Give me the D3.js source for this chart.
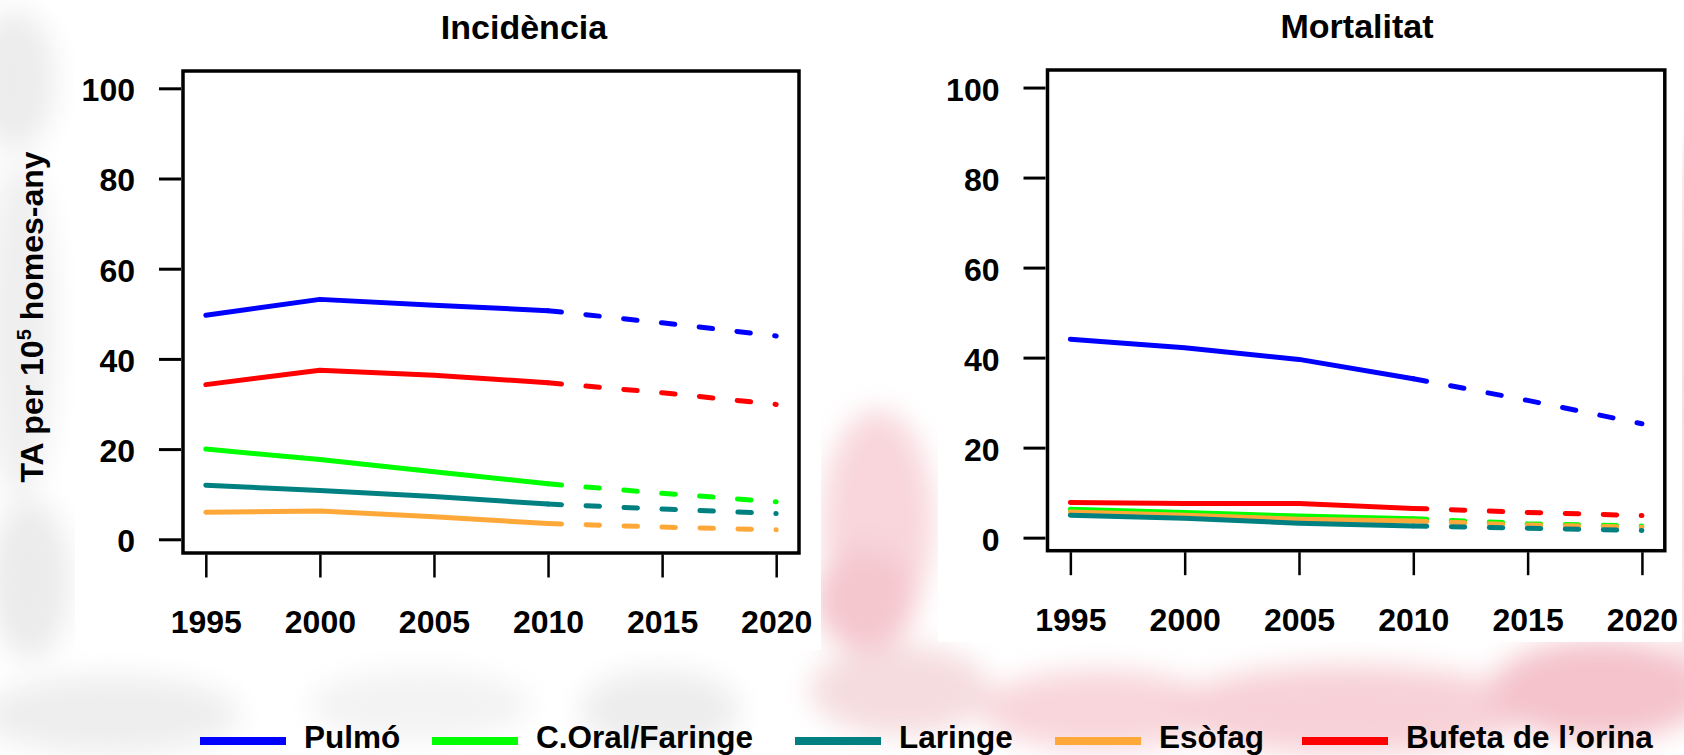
<!DOCTYPE html>
<html>
<head>
<meta charset="utf-8">
<script src="https://cdn.jsdelivr.net/npm/d3@7"></script>
<style>
  html, body { margin: 0; padding: 0; background: #ffffff; }
  svg { display: block; }
  text { font-family: "Liberation Sans", Arial, sans-serif; font-weight: bold; fill: #000; }
</style>
</head>
<body>
<svg id="chart" width="1684" height="755"></svg>
<script>
// Years on the x axis; observed up to 2010, projected afterwards
const years = [1995, 2000, 2005, 2010, 2015, 2020];
const lastObserved = 2010;
const yTicks = [0, 20, 40, 60, 80, 100];

const sites = ["Pulmó", "C.Oral/Faringe", "Laringe", "Esòfag", "Bufeta de l’orina"];
const siteColours = ["#0000ff", "#00ff00", "#008080", "#ffa83a", "#ff0000"];

// Incidence, age-adjusted rate per 100,000 men-years
const incPulmo   = [49.7, 53.2, 51.9, 50.7, 48.0, 45.1];
const incOral    = [20.0, 17.7, 15.0, 12.3, 10.2, 8.3];
const incLaringe = [12.0, 10.8, 9.5, 7.8, 6.7, 5.7];
const incEsofag  = [6.0, 6.3, 5.0, 3.5, 2.7, 2.1];
const incBufeta  = [34.3, 37.5, 36.4, 34.7, 32.5, 29.9];

// Mortality, age-adjusted rate per 100,000 men-years
const morPulmo   = [44.1, 42.2, 39.6, 35.3, 30.5, 25.3];
const morOral    = [6.3, 5.6, 4.8, 4.2, 3.1, 2.6];
const morLaringe = [5.0, 4.3, 3.2, 2.6, 2.1, 1.6];
const morEsofag  = [5.7, 5.0, 4.1, 3.7, 2.8, 2.3];
const morBufeta  = [7.8, 7.6, 7.6, 6.5, 5.6, 4.9];

// Drawing order within each panel (index into sites)
const drawOrder = [0, 1, 3, 2, 4];

const svg = d3.select("#chart");

// ---- hazy backdrop ----
const defs = svg.append("defs");
defs.append("filter").attr("id", "haze")
  .attr("x", "-50%").attr("y", "-50%").attr("width", "200%").attr("height", "200%")
  .append("feGaussianBlur").attr("stdDeviation", 14);

const bg = svg.append("g").attr("filter", "url(#haze)");
const blobs = [
  [15, 80, 40, 70, "#ececec"],
  [20, 330, 35, 170, "#efefef"],
  [30, 580, 40, 80, "#ebebeb"],
  [110, 715, 130, 40, "#eeeeee"],
  [420, 705, 110, 35, "#f3f3f3"],
  [660, 710, 80, 40, "#ededed"],
  [878, 520, 55, 110, "#f8d6db"],
  [865, 600, 50, 50, "#f4c6cd"],
  [900, 690, 90, 45, "#f5dcdf"],
  [1100, 710, 120, 40, "#f8d6db"],
  [1350, 710, 180, 45, "#f7d1d7"],
  [1600, 690, 110, 50, "#f4c3cb"],
  [1690, 400, 18, 260, "#f7d3d8"]
];
blobs.forEach(b => bg.append("ellipse")
  .attr("cx", b[0]).attr("cy", b[1]).attr("rx", b[2]).attr("ry", b[3]).attr("fill", b[4]));

// White plotting cards
svg.append("rect").attr("x", 75).attr("y", 55).attr("width", 746).attr("height", 595).attr("fill", "#fff");
svg.append("rect").attr("x", 938).attr("y", 55).attr("width", 744).attr("height", 587).attr("fill", "#fff");

// ---- panels ----
const panels = [
  { title: "Incidència", titleX: 524, titleY: 39,
    xRange: [183, 799], yRange: [553, 71], yDomain: [-3.04, 103.84],
    series: [incPulmo, incOral, incLaringe, incEsofag, incBufeta] },
  { title: "Mortalitat", titleX: 1357, titleY: 38,
    xRange: [1047.5, 1664.8], yRange: [550.7, 70], yDomain: [-2.9, 103.9],
    series: [morPulmo, morOral, morLaringe, morEsofag, morBufeta] }
];

panels.forEach(p => {
  const x = d3.scaleLinear().domain([1994, 2021]).range(p.xRange);
  const y = d3.scaleLinear().domain(p.yDomain).range(p.yRange);
  const g = svg.append("g");

  const line = d3.line().x(d => x(d.year)).y(d => y(d.value));

  drawOrder.forEach(i => {
    const pts = years.map((yr, k) => ({ year: yr, value: p.series[i][k] }));
    const observed = pts.filter(d => d.year <= lastObserved);
    const projected = pts.filter(d => d.year >= lastObserved);
    g.append("path").datum(observed).attr("d", line)
      .attr("fill", "none").attr("stroke", siteColours[i]).attr("stroke-width", 5)
      .attr("stroke-linecap", "round").attr("stroke-linejoin", "round");
    g.append("path").datum(projected).attr("d", line)
      .attr("fill", "none").attr("stroke", siteColours[i]).attr("stroke-width", 5)
      .attr("stroke-linecap", "round").attr("stroke-dasharray", "13.5 24.5");
  });

  // frame
  g.append("rect")
    .attr("x", p.xRange[0]).attr("y", p.yRange[1])
    .attr("width", p.xRange[1] - p.xRange[0]).attr("height", p.yRange[0] - p.yRange[1])
    .attr("fill", "none").attr("stroke", "#000").attr("stroke-width", 3.5);

  // y axis
  const ay = g.append("g").attr("transform", `translate(${p.xRange[0] - 2},0)`)
    .call(d3.axisLeft(y).tickValues(yTicks).tickSize(22).tickPadding(24).tickFormat(d3.format("d")));
  ay.select(".domain").remove();
  ay.selectAll(".tick line").attr("stroke", "#000").attr("stroke-width", 3);
  ay.selectAll(".tick text").attr("font-size", 32).attr("font-family", null).attr("dy", "0.39em");

  // x axis
  const ax = g.append("g").attr("transform", `translate(0,${p.yRange[0] + 1.5})`)
    .call(d3.axisBottom(x).tickValues(years).tickSize(23).tickPadding(33).tickFormat(d3.format("d")));
  ax.select(".domain").remove();
  ax.selectAll(".tick line").attr("stroke", "#000").attr("stroke-width", 2.5);
  ax.selectAll(".tick text").attr("font-size", 32).attr("font-family", null);

  // title
  svg.append("text").attr("x", p.titleX).attr("y", p.titleY)
    .attr("text-anchor", "middle").attr("font-size", 34).text(p.title);
});

// y axis label
const yl = svg.append("text")
  .attr("transform", "translate(43,317) rotate(-90)")
  .attr("text-anchor", "middle").attr("font-size", 32);
yl.append("tspan").text("TA per 10");
yl.append("tspan").attr("font-size", 20).attr("dy", -12).text("5");
yl.append("tspan").attr("dy", 12).text(" homes-any");

// ---- legend ----
const legendX = [200, 432, 795, 1055, 1302];
const legend = svg.append("g");
sites.forEach((s, i) => {
  legend.append("line")
    .attr("x1", legendX[i]).attr("x2", legendX[i] + 86).attr("y1", 741).attr("y2", 741)
    .attr("stroke", siteColours[i]).attr("stroke-width", 8);
  legend.append("text").attr("x", legendX[i] + 104).attr("y", 748)
    .attr("font-size", 31.5).text(s);
});
</script>
</body>
</html>
